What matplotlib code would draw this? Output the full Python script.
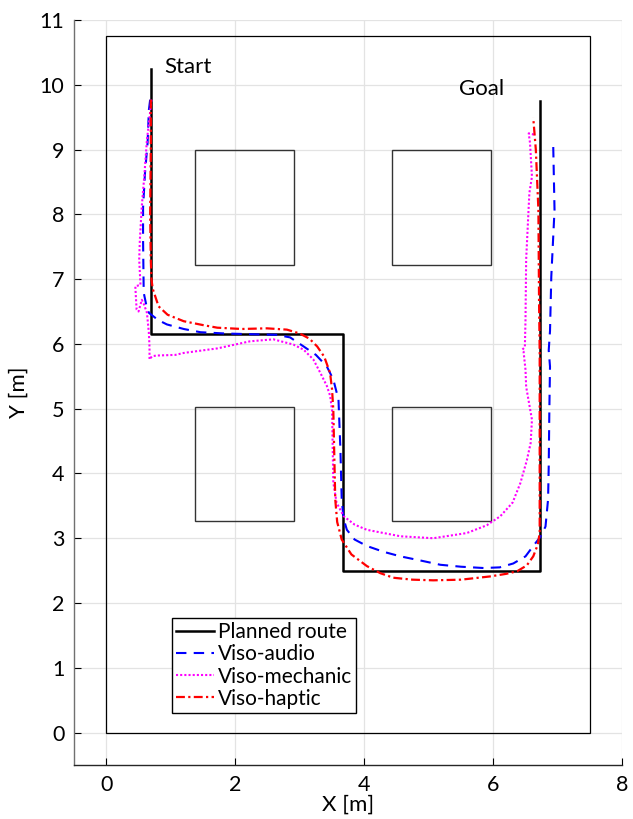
import matplotlib
matplotlib.use("Agg")
import matplotlib.pyplot as plt
from matplotlib.patches import Rectangle

plt.rcParams['font.family'] = ['Lato', 'DejaVu Sans']

# Environment
room = (0.0, 0.0, 7.5, 10.75)  # x, y, w, h
obstacles = [
    (1.38, 7.22, 1.53, 1.78),
    (4.43, 7.22, 1.54, 1.78),
    (1.38, 3.27, 1.53, 1.76),
    (4.43, 3.27, 1.54, 1.76),
]

# Planned route
planned_x = [0.70, 0.70, 3.67, 3.67, 6.72, 6.72]
planned_y = [10.25, 6.15, 6.15, 2.50, 2.50, 9.75]

# Viso-audio
audio_x = [0.68, 0.66, 0.64, 0.60, 0.57, 0.57, 0.58, 0.62, 0.66, 0.80, 0.94, 1.20, 1.46, 1.85,
           2.23, 2.64, 2.85, 3.06, 3.25, 3.42, 3.52, 3.60, 3.63, 3.65, 3.68, 3.73, 3.85, 4.04,
           4.30, 4.56, 4.90, 5.18, 5.50, 5.85, 6.10, 6.31, 6.50, 6.62, 6.73, 6.81, 6.85, 6.86,
           6.87, 6.88, 6.86, 6.88, 6.90, 6.95, 6.93]
audio_y = [9.77, 9.61, 9.10, 8.64, 8.10, 7.61, 6.79, 6.60, 6.48, 6.37, 6.30, 6.23, 6.18, 6.16,
           6.15, 6.14, 6.10, 5.96, 5.83, 5.65, 5.45, 5.14, 4.37, 3.60, 3.30, 3.13, 2.98, 2.88,
           2.79, 2.72, 2.65, 2.59, 2.56, 2.54, 2.55, 2.61, 2.72, 2.88, 3.02, 3.18, 3.60, 4.11,
           5.00, 5.65, 5.90, 6.20, 7.04, 8.07, 9.05]

# Viso-mechanic
mech_x = [0.70, 0.66, 0.63, 0.59, 0.55, 0.52, 0.51, 0.53, 0.45, 0.46, 0.47, 0.50, 0.55, 0.58,
          0.63, 0.66, 0.67, 0.67, 0.71, 0.78, 1.07, 1.20, 1.72, 2.23, 2.59, 2.90, 3.06, 3.21,
          3.32, 3.42, 3.47, 3.50, 3.52, 3.57, 3.68, 3.85, 4.04, 4.56, 5.07, 5.59, 5.90, 6.11,
          6.30, 6.42, 6.52, 6.58, 6.60, 6.51, 6.50, 6.47, 6.45, 6.49, 6.50, 6.51, 6.56, 6.60,
          6.57, 6.55, 6.60, 6.65]
mech_y = [9.77, 9.40, 9.15, 8.60, 8.12, 7.60, 7.30, 6.91, 6.89, 6.70, 6.53, 6.50, 6.68, 6.62,
          6.48, 6.17, 5.95, 5.76, 5.81, 5.82, 5.83, 5.86, 5.93, 6.04, 6.07, 5.99, 5.91, 5.76,
          5.55, 5.35, 5.20, 4.98, 3.86, 3.55, 3.34, 3.21, 3.13, 3.03, 3.00, 3.08, 3.20, 3.34,
          3.55, 3.85, 4.20, 4.47, 4.83, 5.34, 5.60, 5.88, 5.91, 5.95, 6.37, 7.30, 8.33, 8.58,
          9.10, 9.25, 9.24, 9.22]

# Viso-haptic
hapt_x = [0.69, 0.69, 0.68, 0.69, 0.70, 0.72, 0.81, 0.95, 1.20, 1.50, 1.72, 2.10, 2.49, 2.80,
          3.00, 3.15, 3.27, 3.38, 3.47, 3.50, 3.52, 3.53, 3.55, 3.58, 3.65, 3.80, 4.04, 4.25,
          4.45, 4.75, 5.07, 5.50, 5.95, 6.20, 6.37, 6.52, 6.62, 6.69, 6.72, 6.72, 6.72, 6.72,
          6.71, 6.70, 6.66, 6.62]
hapt_y = [9.77, 9.00, 8.00, 7.30, 7.00, 6.85, 6.58, 6.45, 6.35, 6.29, 6.25, 6.23, 6.24, 6.22,
          6.16, 6.08, 5.96, 5.80, 5.55, 5.30, 4.98, 4.50, 3.60, 3.25, 2.98, 2.75, 2.57, 2.46,
          2.39, 2.36, 2.35, 2.36, 2.41, 2.45, 2.49, 2.58, 2.72, 2.90, 3.08, 4.00, 5.14, 5.86,
          6.68, 8.07, 9.00, 9.49]

xticks = [0, 2, 4, 6, 8]
yticks = list(range(0, 12))

fig = plt.figure(figsize=(6.33, 8.19), dpi=100)
ax = fig.add_axes([0.117, 0.066, 0.866, 0.9096])

ax.grid(True, color='#e3e3e3', linewidth=0.9, zorder=0)
ax.set_axisbelow(True)

rx, ry, rw, rh = room
ax.add_patch(Rectangle((rx, ry), rw, rh, fill=False, edgecolor='black', linewidth=0.9, zorder=2))
for (ox, oy, ow, oh) in obstacles:
    ax.add_patch(Rectangle((ox, oy), ow, oh, fill=False, edgecolor='#333333', linewidth=1.0, zorder=2))

ax.plot(planned_x, planned_y, color='black', linewidth=1.8, label='Planned route', zorder=3)
ax.plot(audio_x, audio_y, color='#0000ff', linewidth=1.5, linestyle=(0, (5, 3.5)), label='Viso-audio', zorder=4)
ax.plot(mech_x, mech_y, color='#ff00ff', linewidth=1.5, linestyle=(0, (1, 1)), label='Viso-mechanic', zorder=4)
ax.plot(hapt_x, hapt_y, color='#ff0000', linewidth=1.6, linestyle=(0, (4, 1.5, 1, 1.5)), label='Viso-haptic', zorder=5)

ax.text(0.90, 10.27, 'Start', fontsize=16, ha='left', va='center')
ax.text(5.47, 9.94, 'Goal', fontsize=16, ha='left', va='center')

ax.set_xlim(-0.5, 8)
ax.set_ylim(-0.5, 11)
ax.set_xticks(xticks)
ax.set_yticks(yticks)
ax.tick_params(direction='in', labelsize=15.5, length=5, width=0.8, pad=7)
ax.set_xlabel('X [m]', fontsize=16, labelpad=0)
ax.set_ylabel('Y [m]', fontsize=16, labelpad=8)
for s in ['top', 'right']:
    ax.spines[s].set_visible(False)
ax.spines['left'].set_color('#707070')
ax.spines['bottom'].set_color('#262626')
for s in ['left', 'bottom']:
    ax.spines[s].set_linewidth(1.0)

leg = ax.legend(loc='upper left', bbox_to_anchor=(0.179, 0.197), fontsize=15,
                frameon=True, fancybox=False, edgecolor='black', framealpha=1,
                handlelength=1.8, handletextpad=0.2, labelspacing=0.1,
                borderpad=0.2, borderaxespad=0)
leg.get_frame().set_linewidth(1.0)

fig.savefig('out.png', dpi=100)
